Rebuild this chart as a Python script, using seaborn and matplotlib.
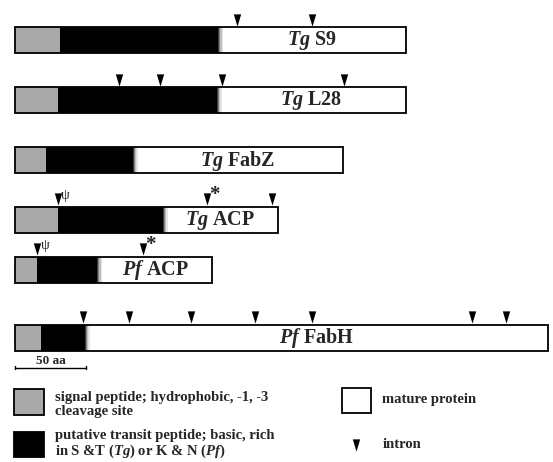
"""
plot.py

Schematic of apicoplast-targeted proteins: signal peptide, transit peptide,
mature protein and intron positions (lengths in amino acids).
"""

import numpy as np
import pandas as pd
import matplotlib
matplotlib.use("Agg")
import matplotlib.pyplot as plt
import seaborn as sns


# ========== DATA (amino acids from the bar start) ========== #

SPECIES = ["Tg", "Tg", "Tg", "Tg", "Pf", "Pf"]
PROTEINS = ["S9", "L28", "FabZ", "ACP", "ACP", "FabH"]
SIGNAL_END = [32, 30, 22, 30, 15.5, 18]
TRANSIT_END = [143, 142, 83, 104, 58, 49]
LENGTH = [275, 275, 231, 185, 139, 375]
INTRONS = [
    [156, 209],
    [73, 102, 146, 232],
    [],
    [30, 135, 181],
    [15.5, 90],
    [48, 80, 124, 169, 209, 322, 346],
]
# special intron marks: (row, intron position, symbol)
INTRON_MARKS = [(3, 30, "\u03c8"), (3, 135, "*"), (4, 15.5, "\u03c8"), (4, 90, "*")]
SCALE_AA = 50


# ========== LAYOUT (pixels) ========== #

W, H = 553, 462
X0 = 15                 # left edge of bars
AA_PX = 71 / SCALE_AA   # 50 aa scale bar is 71 px
ROW_Y = [40, 100, 160, 219.5, 269.5, 337.5]
BAR_H = 26
SERIF = "Liberation Serif"
TRI = [(-3.6, 6), (3.6, 6), (0, -6)]
TRI_S = 78


def px2aa(x):
    return (x - X0) / AA_PX


def draw_layer(ax, values, color, width, **kws):
    sns.barplot(x=values, y=ROW_Y, orient="h", native_scale=True, width=width,
                color=color, saturation=1, errorbar=None, ax=ax, **kws)


def main():
    sns.set_theme(style="white")
    plt.rcParams["font.family"] = [SERIF, "DejaVu Serif"]
    plt.rcParams["font.weight"] = "bold"
    plt.rcParams["mathtext.fontset"] = "custom"
    plt.rcParams["mathtext.it"] = f"{SERIF}:italic:bold"
    plt.rcParams["mathtext.rm"] = f"{SERIF}:bold"

    fig = plt.figure(figsize=(W / 100, H / 100), dpi=100)
    ax = fig.add_axes([0, 0, 1, 1])

    width = BAR_H / np.min(np.diff(ROW_Y))
    transit = np.array(TRANSIT_END, dtype=float)

    # mature protein (white), fuzzy edge, transit (black), signal (gray)
    draw_layer(ax, LENGTH, "white", width, linewidth=0)
    for step, shade in [(3.5, "#e4e4e4"), (2.5, "#bdbdbd"), (1.5, "#808080"), (0.7, "#3a3a3a")]:
        draw_layer(ax, transit + step, shade, width, linewidth=0)
    draw_layer(ax, transit, "black", width, linewidth=0)
    draw_layer(ax, SIGNAL_END, "#a9a9a9", width, linewidth=0)
    draw_layer(ax, LENGTH, "black", width, fill=False, linewidth=1.3)

    # introns
    rows = [(i, pos) for i, lst in enumerate(INTRONS) for pos in lst]
    introns = pd.DataFrame(rows, columns=["row", "pos"])
    introns["y"] = [ROW_Y[r] - BAR_H / 2 - 7.5 for r in introns["row"]]
    sns.scatterplot(data=introns, x="pos", y="y", marker=TRI, s=TRI_S,
                    color="black", linewidth=0, legend=False, ax=ax)

    for r, pos, sym in INTRON_MARKS:
        top = ROW_Y[r] - BAR_H / 2
        if sym == "*":
            ax.text(pos + 8 / AA_PX, top - 11, sym, fontsize=15, ha="center", va="center")
        else:
            ax.text(pos + 8 / AA_PX, top - 11, sym, fontsize=10, ha="center", va="center",
                    fontweight="normal")

    # protein labels, centred in the mature region
    for i, (sp, name) in enumerate(zip(SPECIES, PROTEINS)):
        xc = (TRANSIT_END[i] + LENGTH[i]) / 2
        ax.text(xc, ROW_Y[i] + 1, f"$\\mathit{{{sp}}}$ {name}", fontsize=14.5,
                ha="center", va="center")

    # scale bar
    ax.plot([0, SCALE_AA], [368, 368], color="black", lw=1)
    for xe in [0, SCALE_AA]:
        ax.plot([xe, xe], [366, 369], color="black", lw=1)
    ax.text(SCALE_AA / 2, 361, f"{SCALE_AA} aa", fontsize=9.5, ha="center", va="center")

    # legend
    def box(x1, y1, x2, y2, fc):
        ax.add_patch(plt.Rectangle((px2aa(x1), y1), px2aa(x2) - px2aa(x1), y2 - y1,
                                   facecolor=fc, edgecolor="black", linewidth=1.3))

    box(14, 389, 44, 415, "#a9a9a9")
    box(14, 432, 44, 457, "black")
    box(342, 388, 371, 413, "white")
    ax.scatter([px2aa(356)], [445], marker=TRI, s=TRI_S, color="black", linewidth=0)

    fs = 10.5
    ax.text(px2aa(55), 397, "signal peptide; hydrophobic, -1, -3", fontsize=fs, va="center")
    ax.text(px2aa(55), 411, "cleavage site", fontsize=fs, va="center")
    ax.text(px2aa(55), 435, "putative transit peptide; basic, rich", fontsize=fs, va="center")
    ax.text(px2aa(55), 451, "in S &T ($\\mathit{Tg}$) or K & N ($\\mathit{Pf}$)",
            fontsize=fs, va="center")
    ax.text(px2aa(382), 399, "mature protein", fontsize=fs, va="center")
    ax.text(px2aa(383), 444, "intron", fontsize=fs, va="center")

    ax.set_xlim(px2aa(0), px2aa(W))
    ax.set_ylim(H, 0)
    ax.axis("off")

    fig.savefig("out.png", dpi=100)
    plt.close(fig)


if __name__ == "__main__":
    main()
